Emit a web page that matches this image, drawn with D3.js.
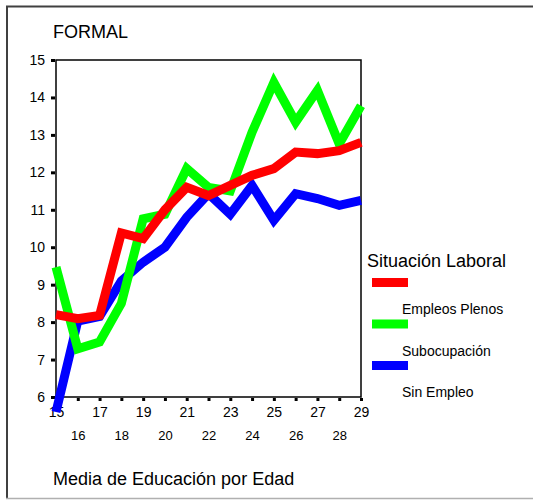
<!DOCTYPE html>
<html>
<head>
<meta charset="utf-8">
<script src="https://cdn.jsdelivr.net/npm/d3@7"></script>
<style>
  body { margin: 0; background: #fff; }
  svg { display: block; font-family: "Liberation Sans", Arial, sans-serif; }
  .axis path, .axis line { stroke: #000; }
  .axis text { fill: #000; }
</style>
</head>
<body>
<svg id="chart"></svg>
<script>
var ages = [15, 16, 17, 18, 19, 20, 21, 22, 23, 24, 25, 26, 27, 28, 29];
var plenos = [8.2, 8.09, 8.18, 10.38, 10.23, 11.0, 11.6, 11.38, 11.65, 11.92, 12.1, 12.54, 12.5, 12.58, 12.8];
var subocupacion = [9.47, 7.29, 7.47, 8.5, 10.76, 10.88, 12.1, 11.6, 11.5, 13.07, 14.4, 13.34, 14.19, 12.76, 13.78];
var sinEmpleo = [5.6, 8.03, 8.15, 9.1, 9.6, 10.0, 10.8, 11.43, 10.88, 11.65, 10.72, 11.43, 11.3, 11.12, 11.25];
var seriesNames = ['Empleos Plenos', 'Subocupación', 'Sin Empleo'];
var seriesColors = ['#ff0000', '#00ff00', '#0000ff'];
var yTicks = [6, 7, 8, 9, 10, 11, 12, 13, 14, 15];

var width = 533, height = 501;
var svg = d3.select('#chart').attr('width', width).attr('height', height);

// outer frame (top/left dark, bottom light)
svg.append('path')
    .attr('d', 'M7,498V6.5H533')
    .attr('fill', 'none')
    .attr('stroke', '#404040')
    .attr('stroke-width', 2);
svg.append('line')
    .attr('x1', 6).attr('x2', 533).attr('y1', 498.5).attr('y2', 498.5)
    .attr('stroke', '#b0b0b0').attr('stroke-width', 1.5);

var plot = { left: 56, top: 60, right: 361, bottom: 397 };

var x = d3.scaleLinear().domain([15, 29]).range([plot.left, plot.right]);
var y = d3.scaleLinear().domain([6, 15]).range([plot.bottom, plot.top]);

svg.append('text')
    .attr('x', 53).attr('y', 38)
    .attr('font-size', 18)
    .text('FORMAL');

// y axis
var yAxis = svg.append('g')
    .attr('class', 'axis')
    .attr('transform', 'translate(' + plot.left + ',0)')
    .call(d3.axisLeft(y).tickValues(yTicks).tickSize(5).tickSizeOuter(0).tickPadding(6));
yAxis.select('.domain').remove();
yAxis.selectAll('line').attr('x1', -1).attr('stroke-width', 3);
yAxis.selectAll('text').attr('font-size', 14).attr('font-family', 'Liberation Sans, Arial, sans-serif');

// x axis: odd labels on first row, even labels on second row
var odd = ages.filter(function(a) { return a % 2 === 1; });
var even = ages.filter(function(a) { return a % 2 === 0; });

var xOdd = svg.append('g')
    .attr('class', 'axis')
    .attr('transform', 'translate(0,' + plot.bottom + ')')
    .call(d3.axisBottom(x).tickValues(odd).tickSize(4).tickSizeOuter(0).tickPadding(6));
xOdd.select('.domain').remove();
xOdd.selectAll('line').attr('y1', 1).attr('stroke-width', 3);
xOdd.selectAll('text').attr('font-size', 14).attr('font-family', 'Liberation Sans, Arial, sans-serif');

var xEven = svg.append('g')
    .attr('class', 'axis')
    .attr('transform', 'translate(0,' + plot.bottom + ')')
    .call(d3.axisBottom(x).tickValues(even).tickSize(4).tickSizeOuter(0).tickPadding(30));
xEven.select('.domain').remove();
xEven.selectAll('line').attr('y1', 1).attr('stroke-width', 3);
xEven.selectAll('text').attr('font-size', 13).attr('font-family', 'Liberation Sans, Arial, sans-serif');

// plot frame
svg.append('rect')
    .attr('x', plot.left).attr('y', plot.top)
    .attr('width', plot.right - plot.left).attr('height', plot.bottom - plot.top)
    .attr('fill', 'none')
    .attr('stroke', '#000')
    .attr('stroke-width', 1.5);

var series = [plenos, subocupacion, sinEmpleo];
var line = d3.line()
    .x(function(d, i) { return x(ages[i]); })
    .y(function(d) { return y(d); });

// blue at the bottom, red on top
[2, 1, 0].forEach(function(s) {
    svg.append('path')
        .datum(series[s])
        .attr('d', line)
        .attr('fill', 'none')
        .attr('stroke', seriesColors[s])
        .attr('stroke-width', 9)
        .attr('stroke-linejoin', 'miter')
        .attr('stroke-miterlimit', 10);
});

// legend
var legend = svg.append('g');
legend.append('text')
    .attr('x', 367).attr('y', 267)
    .attr('font-size', 18)
    .text('Situación Laboral');

seriesNames.forEach(function(name, i) {
    var top = 278 + i * 41.5;
    legend.append('rect')
        .attr('x', 372).attr('y', top)
        .attr('width', 36).attr('height', 9)
        .attr('fill', seriesColors[i]);
    legend.append('text')
        .attr('x', 402).attr('y', top + 36)
        .attr('font-size', 14)
        .text(name);
});

svg.append('text')
    .attr('x', 53).attr('y', 485)
    .attr('font-size', 18)
    .text('Media de Educación por Edad');
</script>
</body>
</html>
